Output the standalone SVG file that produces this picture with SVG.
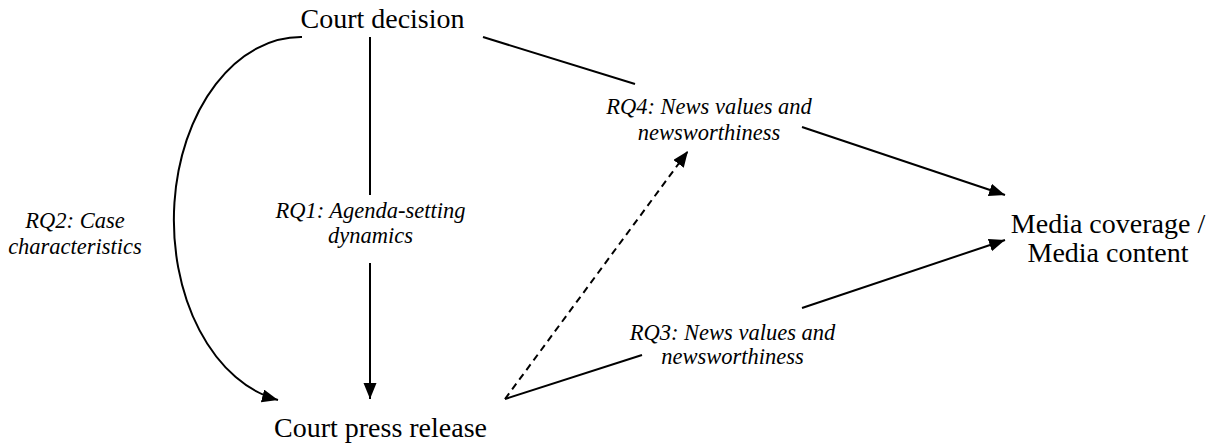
<svg xmlns="http://www.w3.org/2000/svg" width="1211" height="445" viewBox="0 0 1211 445">
<style>
.node{font-size:28px;fill:#000;text-anchor:middle}
.lbl{font-size:22.5px;font-style:italic;fill:#000;text-anchor:middle}
.edge{fill:none;stroke:#000;stroke-width:2}
.dash{stroke-dasharray:7 5}
</style>
<defs>
<marker id="arr" markerUnits="userSpaceOnUse" markerWidth="17" markerHeight="14" refX="16" refY="6.5" orient="auto">
<path d="M0,0 L16,6.5 L0,13 z" fill="#000" stroke="none"/>
</marker>
</defs>
<rect width="1211" height="445" fill="#fff"/>
<g id="connectors">
<path class="edge" d="M302,37 A127,183 0 0 0 278,400" marker-end="url(#arr)"/>
<line class="edge" x1="370" y1="37" x2="370" y2="195"/>
<line class="edge" x1="370" y1="263" x2="370" y2="399" marker-end="url(#arr)"/>
<line class="edge" x1="483" y1="37" x2="635" y2="84"/>
<line class="edge" x1="802" y1="127" x2="1005" y2="195" marker-end="url(#arr)"/>
<line class="edge" x1="505" y1="399" x2="642" y2="355"/>
<line class="edge" x1="802" y1="308" x2="1005" y2="240" marker-end="url(#arr)"/>
<line class="edge dash" x1="505" y1="399" x2="688" y2="151" marker-end="url(#arr)"/>
</g>
<g font-family="Liberation Serif, DejaVu Serif, serif">
<g id="court-decision"><text class="node" x="382.5" y="28">Court decision</text></g>
<g id="court-press-release"><text class="node" x="380.5" y="437">Court press release</text></g>
<g id="media"><text class="node" x="1108" y="233">Media coverage /</text><text class="node" x="1108" y="262">Media content</text></g>
<g id="rq1"><text class="lbl" x="370.5" y="218">RQ1: Agenda-setting</text><text class="lbl" x="370.5" y="243">dynamics</text></g>
<g id="rq2"><text class="lbl" x="75" y="228">RQ2: Case</text><text class="lbl" x="75" y="254">characteristics</text></g>
<g id="rq3"><text class="lbl" x="732.5" y="340">RQ3: News values and</text><text class="lbl" x="732.5" y="364">newsworthiness</text></g>
<g id="rq4"><text class="lbl" x="709" y="114">RQ4: News values and</text><text class="lbl" x="709" y="140">newsworthiness</text></g>
</g>
</svg>
